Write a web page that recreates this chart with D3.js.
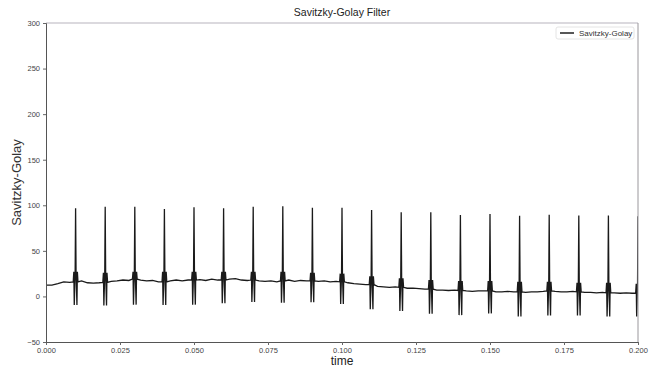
<!DOCTYPE html>
<html>
<head>
<meta charset="utf-8">
<script src="https://cdn.jsdelivr.net/npm/d3@7"></script>
<style>
  body { margin: 0; background: #fff; }
  svg { display: block; }
</style>
</head>
<body>
<svg id="chart"></svg>
<script>
const width = 657;
const height = 369;

// baseline of the filtered signal, one reading every 0.002 s
const baseTimes = d3.range(0, 101).map(i => +(i * 0.002).toFixed(3));
const baseValues = [
    12.5, 12.5, 14, 16, 15.5, 16, 17, 15, 14.5, 15,
    15.5, 16.5, 17, 18, 17.5, 19, 18, 17, 17.5, 16,
    16, 17, 18, 17, 18, 18, 18.5, 17.5, 19, 18,
    18, 19, 19.5, 18, 17.5, 18, 17, 16.5, 17, 16,
    17, 18, 16.5, 17.5, 17, 17, 16.5, 17, 16, 16.5,
    16, 15, 14, 13.5, 13, 13, 11, 10.5, 10, 10.5,
    10, 9, 9, 8.5, 8, 8, 7, 7, 6.5, 7,
    6.5, 6, 5.5, 6, 6, 6, 5, 5, 5.5, 5,
    5, 4.5, 5, 5, 5.5, 6, 5.5, 5, 5, 5.5,
    5, 4.5, 4.5, 4, 4.5, 4, 4, 3.5, 4, 3.5,
    3.5
];

// spikes (one per 0.01 s)
const spikeTimes = [0.01, 0.02, 0.03, 0.04, 0.05, 0.06, 0.07, 0.08, 0.09, 0.10,
                    0.11, 0.12, 0.13, 0.14, 0.15, 0.16, 0.17, 0.18, 0.19, 0.20];
const spikePeaks = [96.7, 98.5, 98.5, 96, 97.8, 96.7, 98.5, 99, 97.4, 97.4,
                    94.8, 92.3, 92.3, 89.4, 90.5, 88.6, 89.7, 88.8, 88.8, 88];
const spikeTroughs = [-9.5, -10, -9, -9.5, -9, -7.6, -6, -7, -6.5, -8.3,
                      -14, -16, -19, -20.5, -18.6, -22, -21, -21, -22, -22];
const spikeShoulders = [27, 26, 27, 27, 27, 27, 27, 27, 26, 25,
                        22, 20, 18, 17, 17, 16, 16, 15, 15, 14];

// shape of one spike: time offset (s) and which level it reaches
const shapeOffsets = [-0.0006, -0.00045, -0.00015, 0, 0.00015, 0.00045, 0.0006];
const shapeLevels = ["shoulder", "trough", "shoulder", "peak", "shoulder", "trough", "shoulder"];

const xTicks = [0, 0.025, 0.05, 0.075, 0.1, 0.125, 0.15, 0.175, 0.2];
const yTicks = [-50, 0, 50, 100, 150, 200, 250, 300];

const margin = { top: 23, right: 19, bottom: 27, left: 46 };

const svg = d3.select("#chart")
    .attr("width", width)
    .attr("height", height);

const x = d3.scaleLinear()
    .domain([0, 0.2])
    .range([margin.left, width - margin.right]);

const y = d3.scaleLinear()
    .domain([-50, 300])
    .range([height - margin.bottom, margin.top]);

// build the series
let points = [];
baseTimes.forEach((t, i) => {
    const nearSpike = spikeTimes.some(s => Math.abs(s - t) < 0.0008);
    if (!nearSpike) points.push([t, baseValues[i]]);
});
spikeTimes.forEach((s, k) => {
    const levels = { shoulder: spikeShoulders[k], trough: spikeTroughs[k], peak: spikePeaks[k] };
    points.push([s - 0.0008, baseValues[Math.round((s - 0.0008) / 0.002)]]);
    shapeOffsets.forEach((o, j) => points.push([s + o, levels[shapeLevels[j]]]));
    points.push([s + 0.0008, baseValues[Math.round((s + 0.0008) / 0.002)]]);
});
points.sort((a, b) => a[0] - b[0]);

svg.append("clipPath").attr("id", "clip")
    .append("rect")
    .attr("x", margin.left)
    .attr("y", margin.top)
    .attr("width", width - margin.left - margin.right)
    .attr("height", height - margin.top - margin.bottom);

const line = d3.line()
    .x(d => x(d[0]))
    .y(d => y(d[1]));

svg.append("path")
    .datum(points)
    .attr("clip-path", "url(#clip)")
    .attr("fill", "none")
    .attr("stroke", "#1a1a1a")
    .attr("stroke-width", 1.3)
    .attr("d", line);

// spines
const frame = svg.append("g").attr("fill", "none");
frame.append("line")
    .attr("x1", margin.left).attr("x2", width - margin.right)
    .attr("y1", margin.top).attr("y2", margin.top)
    .attr("stroke", "#b8b3bd").attr("stroke-width", 1.2);
frame.append("line")
    .attr("x1", width - margin.right).attr("x2", width - margin.right)
    .attr("y1", margin.top).attr("y2", height - margin.bottom)
    .attr("stroke", "#9a979c").attr("stroke-width", 1);

const xAxis = svg.append("g")
    .attr("transform", `translate(0,${height - margin.bottom})`)
    .call(d3.axisBottom(x).tickValues(xTicks).tickFormat(d3.format(".3f")).tickSize(3).tickPadding(3));

const yAxis = svg.append("g")
    .attr("transform", `translate(${margin.left},0)`)
    .call(d3.axisLeft(y).tickValues(yTicks).tickSize(3).tickPadding(3));

[xAxis, yAxis].forEach(a => {
    a.select(".domain").attr("stroke", "#555").attr("stroke-width", 1);
    a.selectAll(".tick line").attr("stroke", "#666");
    a.selectAll(".tick text")
        .attr("fill", "#444")
        .style("font-family", "'Liberation Sans', Arial, sans-serif")
        .style("font-size", "7.5px");
});

svg.append("text")
    .attr("x", (margin.left + width - margin.right) / 2)
    .attr("y", 16)
    .attr("text-anchor", "middle")
    .attr("fill", "#222")
    .style("font-family", "'Liberation Sans Narrow', 'Liberation Sans', sans-serif")
    .style("font-size", "10.5px")
    .text("Savitzky-Golay Filter");

svg.append("text")
    .attr("x", (margin.left + width - margin.right) / 2)
    .attr("y", 365)
    .attr("text-anchor", "middle")
    .attr("fill", "#222")
    .style("font-family", "'Liberation Sans', sans-serif")
    .style("font-size", "12px")
    .text("time");

svg.append("text")
    .attr("transform", `translate(21,${(margin.top + height - margin.bottom) / 2}) rotate(-90)`)
    .attr("text-anchor", "middle")
    .attr("fill", "#333")
    .style("font-family", "'Liberation Sans', sans-serif")
    .style("font-size", "13px")
    .text("Savitzky-Golay");

// legend
const legend = svg.append("g").attr("transform", "translate(556,27)");
legend.append("rect")
    .attr("width", 78).attr("height", 12)
    .attr("rx", 2)
    .attr("fill", "#fff")
    .attr("stroke", "#ddd").attr("stroke-width", 0.8);
legend.append("line")
    .attr("x1", 4).attr("x2", 18)
    .attr("y1", 6).attr("y2", 6)
    .attr("stroke", "#444").attr("stroke-width", 1.8);
legend.append("text")
    .attr("x", 23).attr("y", 8.7)
    .attr("fill", "#333")
    .style("font-family", "'Liberation Sans Narrow', 'Liberation Sans', sans-serif")
    .style("font-size", "8px")
    .text("Savitzky-Golay");
</script>
</body>
</html>
